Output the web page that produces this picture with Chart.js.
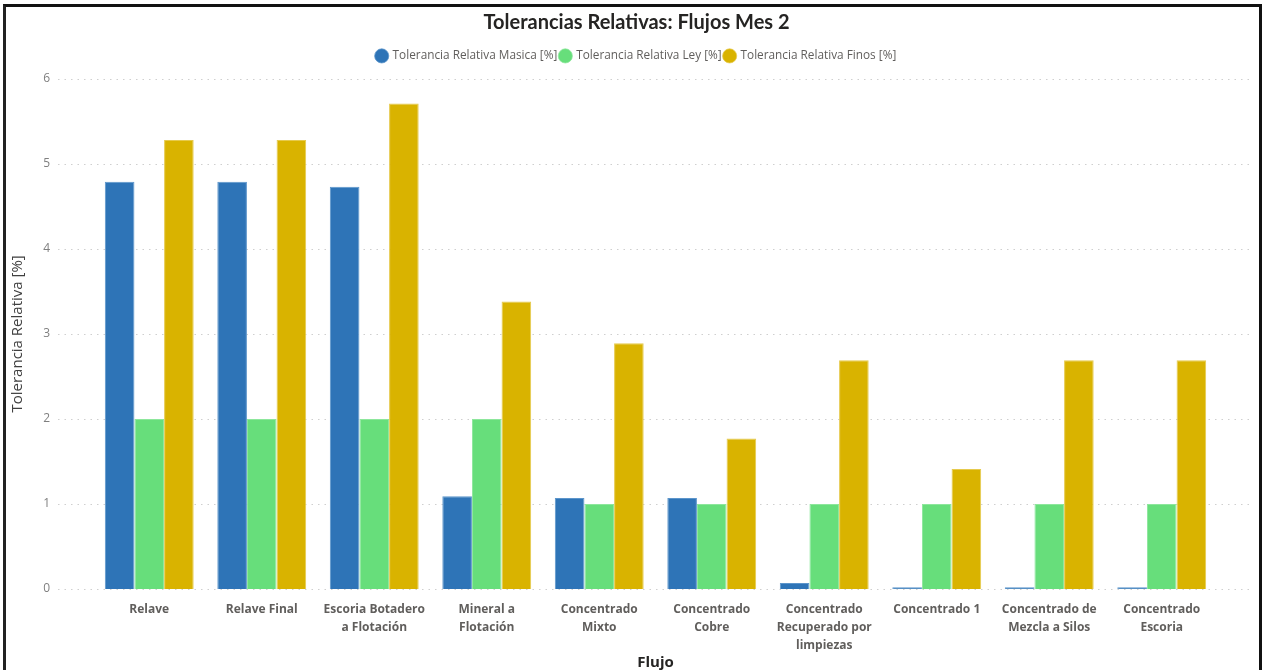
<!DOCTYPE html>
<html>
<head>
<meta charset="utf-8">
<script src="https://cdn.jsdelivr.net/npm/chart.js@4.4.1/dist/chart.umd.min.js"></script>
<style>
  html, body { margin: 0; padding: 0; background: #fff; }
  #frame {
    position: absolute; left: 3px; top: 4px; width: 1253px; height: 664px;
    border-top: 3px solid #111; border-left: 3px solid #222; border-right: 3px solid #111;
    border-bottom: 1px solid #d8d8d8; pointer-events: none;
  }
  #wrap { position: absolute; left: 0; top: 0; width: 1264px; height: 670px; }
</style>
</head>
<body>
<div id="wrap"><canvas id="tolChart" width="1264" height="670"></canvas></div>
<div id="frame"></div>
<script>
// Flujos del mes 2
const flujos = [
    'Relave',
    'Relave Final',
    ['Escoria Botadero', 'a Flotación'],
    ['Mineral a', 'Flotación'],
    ['Concentrado', 'Mixto'],
    ['Concentrado', 'Cobre'],
    ['Concentrado', 'Recuperado por', 'limpiezas'],
    'Concentrado 1',
    ['Concentrado de', 'Mezcla a Silos'],
    ['Concentrado', 'Escoria']
];

// Tolerancias relativas [%] por flujo
const tolMasica = [4.79, 4.79, 4.73, 1.09, 1.07, 1.07, 0.07, 0.02, 0.02, 0.02];
const tolLey = [2, 2, 2, 2, 1, 1, 1, 1, 1, 1];
const tolFinos = [5.28, 5.28, 5.71, 3.38, 2.89, 1.77, 2.69, 1.41, 2.69, 2.69];

const yTicks = [0, 1, 2, 3, 4, 5, 6];

// Dotted horizontal gridlines that run past the plot area like the report visual
const dottedGrid = {
    id: 'dottedGrid',
    beforeDatasetsDraw(chart) {
        const ctx = chart.ctx;
        const y = chart.scales.y;
        ctx.save();
        ctx.strokeStyle = '#cfcfcf';
        ctx.lineWidth = 1;
        ctx.setLineDash([1.5, 5]);
        yTicks.forEach(v => {
            const py = Math.round(y.getPixelForValue(v)) + 0.5;
            ctx.beginPath();
            ctx.moveTo(58, py);
            ctx.lineTo(1250, py);
            ctx.stroke();
        });
        ctx.restore();
    }
};

// Extra room under the legend before the plot starts
const legendGap = {
    id: 'legendGap',
    beforeInit(chart) {
        const fit = chart.legend.fit;
        chart.legend.fit = function () {
            fit.bind(chart.legend)();
            this.height += 7;
        };
    }
};

const config = {
    type: 'bar',
    data: {
        labels: flujos,
        datasets: [
            {
                label: 'Tolerancia Relativa Masica [%]',
                data: tolMasica,
                backgroundColor: '#2E74B7',
                borderColor: '#5C95CB',
                borderWidth: { top: 1, left: 1, right: 1, bottom: 0 }
            },
            {
                label: 'Tolerancia Relativa Ley [%]',
                data: tolLey,
                backgroundColor: '#67DE7B',
                borderColor: '#8DE79C',
                borderWidth: { top: 1, left: 1, right: 1, bottom: 0 }
            },
            {
                label: 'Tolerancia Relativa Finos [%]',
                data: tolFinos,
                backgroundColor: '#D9B300',
                borderColor: '#E6CA4D',
                borderWidth: { top: 1, left: 1, right: 1, bottom: 0 }
            }
        ]
    },
    options: {
        responsive: false,
        animation: false,
        layout: { padding: { top: 11, right: 0, bottom: 0, left: 9 } },
        datasets: {
            bar: { categoryPercentage: 0.79, barPercentage: 1.0 }
        },
        plugins: {
            title: {
                display: true,
                text: 'Tolerancias Relativas: Flujos Mes 2',
                color: '#252423',
                font: { family: 'Lato', size: 20, weight: 'bold' },
                padding: { top: 0, bottom: 12 }
            },
            legend: {
                position: 'top',
                labels: {
                    usePointStyle: true,
                    pointStyle: 'circle',
                    boxWidth: 10,
                    boxHeight: 10,
                    padding: 3,
                    color: '#605E5C',
                    font: { family: 'Open Sans', size: 11.8 }
                }
            },
            tooltip: { enabled: false }
        },
        scales: {
            x: {
                grid: { display: false, drawTicks: false },
                border: { display: false },
                afterFit(axis) {
                    axis.height = 81;
                },
                ticks: {
                    color: '#605E5C',
                    font: { family: 'Open Sans', size: 12, weight: 'bold', lineHeight: 1.5 },
                    maxRotation: 0,
                    autoSkip: false,
                    padding: 12
                },
                title: {
                    display: true,
                    text: 'Flujo',
                    color: '#252423',
                    font: { family: 'Open Sans', size: 15, weight: 'bold', lineHeight: 1 },
                    padding: { top: 0, bottom: 0 }
                }
            },
            y: {
                min: 0,
                max: 6,
                grid: { display: false, drawTicks: false },
                border: { display: false },
                afterBuildTicks(axis) {
                    axis.ticks = yTicks.map(v => ({ value: v }));
                },
                afterFit(axis) {
                    axis.width = 84;
                },
                ticks: {
                    color: '#7F7F7F',
                    font: { family: 'Open Sans', size: 12 },
                    padding: 43
                },
                title: {
                    display: true,
                    text: 'Tolerancia Relativa [%]',
                    color: '#404040',
                    font: { family: 'Open Sans', size: 15 },
                    padding: { top: 0, bottom: 8 }
                }
            },
            // empty right-hand box that keeps the plot away from the frame edge
            yPad: {
                type: 'linear',
                position: 'right',
                display: true,
                grid: { display: false, drawTicks: false },
                border: { display: false },
                ticks: { display: false },
                afterFit(axis) {
                    axis.width = 46;
                }
            }
        }
    },
    plugins: [dottedGrid, legendGap]
};

new Chart(document.getElementById('tolChart'), config);
</script>
</body>
</html>
